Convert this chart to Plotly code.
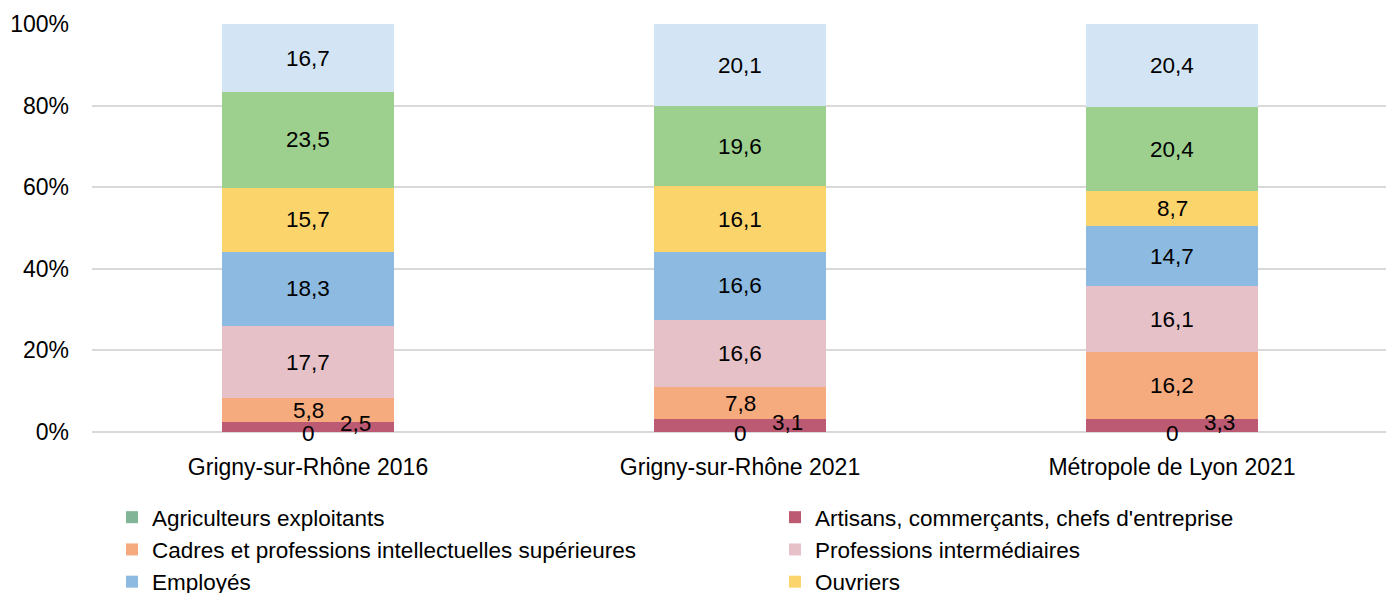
import plotly.graph_objects as go

categories = ["Grigny-sur-Rhône 2016", "Grigny-sur-Rhône 2021", "Métropole de Lyon 2021"]
series_names = [
    "Agriculteurs exploitants",
    "Artisans, commerçants, chefs d'entreprise",
    "Cadres et professions intellectuelles supérieures",
    "Professions intermédiaires",
    "Employés",
    "Ouvriers",
    "Retraités",
    "Autres personnes sans activité professionnelle",
]
agriculteurs = [0, 0, 0]
artisans = [2.5, 3.1, 3.3]
cadres = [5.8, 7.8, 16.2]
prof_inter = [17.7, 16.6, 16.1]
employes = [18.3, 16.6, 14.7]
ouvriers = [15.7, 16.1, 8.7]
retraites = [23.5, 19.6, 20.4]
autres = [16.7, 20.1, 20.4]
series_values = [agriculteurs, artisans, cadres, prof_inter, employes, ouvriers, retraites, autres]
colors = ["#82B497", "#BD5A73", "#F5AB7E", "#E6C1C7", "#8CBAE0", "#FBD56B", "#9DD08F", "#D3E5F4"]
legend_slot = ["legend", "legend2", "legend", "legend2", "legend", "legend2", None, None]
y_ticks = [0, 20, 40, 60, 80, 100]
y_ticktext = ["0%", "20%", "40%", "60%", "80%", "100%"]

FONT = "Liberation Sans, Arial, sans-serif"

fig = go.Figure()
for name, vals, col, slot in zip(series_names, series_values, colors, legend_slot):
    kw = dict(showlegend=slot is not None)
    if slot is not None:
        kw["legend"] = slot
    fig.add_trace(go.Bar(x=categories, y=vals, name=name, marker=dict(color=col, line=dict(width=0)),
                         hoverinfo="name+y", **kw))

# data labels from the arrays, normalised like the stacked percentage bars
annotations = []
totals = [sum(s[i] for s in series_values) for i in range(len(categories))]
for i, cat in enumerate(categories):
    base = 0.0
    for k, vals in enumerate(series_values):
        v = vals[i]
        mid = (base + v / 2) / totals[i] * 100
        base += v
        txt = ("%g" % v).replace(".", ",")
        xshift, yshift = 0, 0
        if k == 1:
            xshift, yshift = 47, 3
        if k == 0:
            yshift = -1
        annotations.append(dict(x=cat, y=mid, text=txt, showarrow=False, xshift=xshift, yshift=yshift,
                                font=dict(family=FONT, size=22.5, color="#000000")))

legend_common = dict(orientation="v", xanchor="left", yanchor="top", y=-0.157, traceorder="normal",
                     font=dict(family=FONT, size=22.5, color="#000000"), itemclick=False,
                     bgcolor="rgba(0,0,0,0)", tracegroupgap=0)

fig.update_layout(
    barmode="stack",
    barnorm="percent",
    bargap=0.6,
    width=1394, height=593,
    margin=dict(l=84, r=14, t=16, b=169, autoexpand=False),
    paper_bgcolor="white", plot_bgcolor="white",
    font=dict(family=FONT, size=23, color="#000000"),
    annotations=annotations,
    legend=dict(x=(104 - 84) / 1296, **legend_common),
    legend2=dict(x=(767 - 84) / 1296, **legend_common),
    xaxis=dict(showgrid=False, showline=False, ticks="", tickfont=dict(size=23), ticklabelstandoff=19),
    yaxis=dict(range=[0, 100], tickvals=y_ticks, ticktext=y_ticktext, showgrid=True, gridcolor="#D9D9D9",
               gridwidth=1.5, zeroline=True, zerolinecolor="#D9D9D9", zerolinewidth=1.5, showline=False,
               ticks="", tickfont=dict(size=23), ticklabelstandoff=22, fixedrange=True),
)

fig.write_html("out.html")
